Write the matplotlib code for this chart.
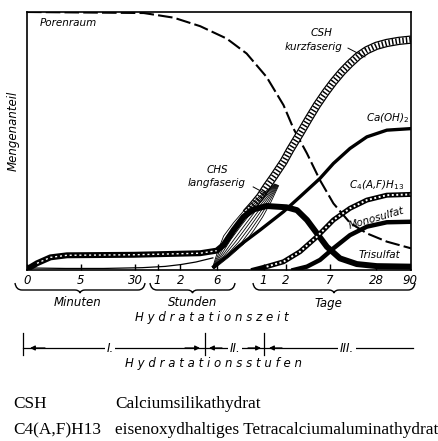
import numpy as np
import matplotlib
matplotlib.use('Agg')
import matplotlib.pyplot as plt
from matplotlib.path import Path
from matplotlib.patches import PathPatch

# x axis: position along the (non linear) time axis, 0..100
tick_pos = [0, 14.05, 28.2, 34.0, 39.9, 49.4, 61.6, 67.5, 78.8, 90.9, 99.7]
tick_labels = ['0', '5', '30', '1', '2', '6', '1', '2', '7', '28', '90']

# curves, y = Mengenanteil in % of axis height
poren_x = [0, 30.4, 38.2, 45.1, 52.0, 57.2, 62.4, 66.8, 69.4, 72.9, 76.3, 79.8, 84.1, 88.5, 93.7, 100]
poren_y = [100, 99.6, 97.8, 94.5, 89.7, 83.9, 74.8, 63.9, 54.8, 45.2, 34.8, 25.8, 18.3, 14.2, 11.0, 8.4]

csh_k_x = [57.0, 58.8, 60.7, 62.4, 64.2, 66.8, 68.5, 71.1, 73.3, 75.5, 77.7, 79.8, 82.0, 84.1, 86.3, 88.5, 91.0, 93.7, 96.8, 100]
csh_k_y = [22.0, 25.0, 28.4, 32.3, 36.1, 41.9, 46.5, 52.9, 58.5, 63.9, 68.7, 72.9, 76.8, 80.0, 83.0, 85.2, 86.9, 88.0, 88.8, 89.3]

chs_l_x = [48.6, 51.2, 53.8, 56.4, 59.0, 62.0, 65.0]
chs_l_y = [0.8, 6.2, 11.6, 16.8, 21.9, 27.4, 33.0]

csh_start_x = [0, 10, 20, 30, 36, 40, 44, 48.4]
csh_start_y = [0.8, 0.6, 0.6, 0.9, 1.4, 2.1, 3.1, 4.7]

tri_x = [0, 2.6, 6.1, 10.4, 27.8, 45.1, 49.4, 51.2, 53.8, 56.4, 59.0, 62.4, 67.6, 70.3, 72.9, 75.5, 78.1, 81.5, 85.9, 91.1, 100]
tri_y = [0.3, 2.6, 4.9, 5.7, 5.9, 6.5, 7.5, 9.7, 15.5, 20.6, 23.5, 24.8, 24.3, 23.2, 19.4, 14.2, 9.0, 4.5, 2.3, 1.5, 1.3]

caoh_x = [48.6, 52.0, 55.5, 60.7, 66.8, 71.1, 76.3, 79.8, 84.1, 88.5, 93.7, 100]
caoh_y = [1.3, 5.2, 9.7, 15.5, 22.6, 28.4, 35.5, 41.3, 47.1, 51.6, 54.2, 54.8]

c4af_x = [59.0, 62.4, 66.8, 71.1, 75.5, 79.8, 84.1, 88.5, 93.7, 100]
c4af_y = [0.0, 1.3, 3.2, 7.1, 12.9, 19.4, 23.9, 27.1, 29.0, 29.3]

mono_x = [69.4, 72.9, 76.3, 79.8, 84.1, 88.5, 93.7, 100]
mono_y = [0.0, 1.3, 3.9, 8.4, 13.5, 16.8, 18.5, 18.7]

groups = ['Minuten', 'Stunden', 'Tage']
stages = ['I.', 'II.', 'III.']
legend_abbr = ['CSH', 'C4(A,F)H13']
legend_text = ['Calciumsilikathydrat', 'eisenoxydhaltiges Tetracalciumaluminathydrat']

W, H = 439, 441
fig = plt.figure(figsize=(W / 100, H / 100), dpi=100)
ax = fig.add_axes([27 / W, 1 - 270 / H, 384 / W, 258 / H])
ax.set_xlim(0, 100)
ax.set_ylim(0, 100)
ax.set_yticks([])
ax.set_xticks(tick_pos)
ax.set_xticklabels(tick_labels, style='italic', fontsize=8.5)
ax.tick_params(axis='x', direction='in', length=4, width=1, pad=3)
for s in ax.spines.values():
    s.set_linewidth(1.2)

# Porenraum
ax.plot(poren_x, poren_y, color='k', lw=1.5, dashes=(7, 2), dash_capstyle='butt')

# CSH kurzfaserig - hatched band
ax.plot(csh_k_x, csh_k_y, color='k', lw=6, solid_capstyle='butt')
ax.plot(csh_k_x, csh_k_y, color='w', lw=4.2, solid_capstyle='butt')
ax.plot(csh_k_x, csh_k_y, color='k', lw=4.2, dashes=(0.25, 0.35), dash_capstyle='butt')

# CHS langfaserig - bundle of thin lines
taper = np.array([0.1, 0.6, 1.0, 1.0, 0.9, 0.6, 0.2])
for k in np.linspace(-2.6, 2.6, 9):
    ax.plot(np.array(chs_l_x) + k * taper, np.array(chs_l_y) - k * taper * 0.6,
            color='k', lw=0.6)
ax.plot(csh_start_x, csh_start_y, color='k', lw=0.9)

# Trisulfat
ax.plot(tri_x, tri_y, color='k', lw=4.3, solid_capstyle='round')
ax.plot(tri_x[1:7], tri_y[1:7], color='w', lw=1.0, dashes=(1.5, 2))

# Ca(OH)2
ax.plot(caoh_x, caoh_y, color='k', lw=2.4)

# C4(A,F)H13
ax.plot(c4af_x, c4af_y, color='k', lw=3.6)
ax.plot(c4af_x[1:], c4af_y[1:], color='w', lw=1.4, dashes=(1, 1.3))

# Monosulfat
ax.plot(mono_x, mono_y, color='k', lw=3.2)

lab = dict(style='italic', fontsize=7.5, color='k')
ax.text(3.4, 95.7, 'Porenraum', ha='left', va='center', **lab)
ax.text(76.8, 91.9, 'CSH', ha='center', va='center', **lab)
ax.text(74.5, 86.4, 'kurzfaserig', ha='center', va='center', **lab)
ax.plot([83.6, 88.0], [86.0, 82.6], color='k', lw=0.7)
ax.text(94.0, 58.9, 'Ca(OH)$_2$', ha='center', va='center', **lab)
ax.text(91.1, 32.9, 'C$_4$(A,F)H$_{13}$', ha='center', va='center', **lab)
ax.text(90.9, 20.2, 'Monosulfat', ha='center', va='center', rotation=16, **lab)
ax.text(91.9, 5.8, 'Trisulfat', ha='center', va='center', **lab)
ax.text(49.7, 38.8, 'CHS', ha='center', va='center', **lab)
ax.text(49.5, 33.7, 'langfaserig', ha='center', va='center', **lab)
ax.plot([58.9, 62.5], [32.2, 29.3], color='k', lw=0.7)

# overlay in pixel coordinates for the annotations below the chart
ov = fig.add_axes([0, 0, 1, 1])
ov.set_xlim(0, W)
ov.set_ylim(H, 0)
ov.axis('off')
ov.patch.set_visible(False)


def brace(x0, x1, y, h):
    xm = (x0 + x1) / 2
    yb = y + h
    verts = [(x0, y), (x0 + 1, yb), (x0 + 7, yb),
             (xm - 5, yb),
             (xm - 1, yb), (xm, yb + 3),
             (xm + 1, yb), (xm + 5, yb),
             (x1 - 7, yb),
             (x1 - 1, yb), (x1, y)]
    codes = [Path.MOVETO, Path.CURVE3, Path.CURVE3, Path.LINETO,
             Path.CURVE3, Path.CURVE3, Path.CURVE3, Path.CURVE3,
             Path.LINETO, Path.CURVE3, Path.CURVE3]
    ov.add_patch(PathPatch(Path(verts, codes), fill=False, lw=1.0, color='k'))


brace(15, 145, 283, 7)
brace(150, 235, 283, 7)
brace(253, 415, 283, 7)

txt = dict(style='italic', fontsize=8.5, color='k', ha='center', va='center')
for name, xc in zip(groups, [78, 193, 328]):
    ov.text(xc, 303, name, **txt)
ov.text(212, 318, ' '.join('Hydratationszeit'), **txt)

# hydration stages
ov.plot([23, 413], [348, 348], color='k', lw=0.9)
for xb in [23, 205, 264]:
    ov.plot([xb, xb], [333, 355], color='k', lw=0.9)
arr = dict(arrowstyle='-|>', color='k', lw=0.9, mutation_scale=7, shrinkA=0, shrinkB=0)
for x_tip, x_tail in [(30, 45), (200, 185), (209, 222), (261, 248), (269, 282)]:
    ov.annotate('', xy=(x_tip, 348), xytext=(x_tail, 348), arrowprops=arr)
for name, xc in zip(stages, [110, 235, 347]):
    ov.text(xc, 348, name, bbox=dict(fc='w', ec='none', pad=1), **txt)
ov.text(214, 363, ' '.join('Hydratationsstufen'), **txt)

ov.text(13, 131, 'Mengenanteil', rotation=90, **txt)

# abbreviations
ser = dict(family='Liberation Serif', fontsize=12.4, color='k', ha='left', va='center')
for i, (a, t) in enumerate(zip(legend_abbr, legend_text)):
    ov.text(13, 404 + 26 * i, a, **ser)
    ov.text(115, 404 + 26 * i, t, **ser)

fig.savefig('out.png', dpi=100)
